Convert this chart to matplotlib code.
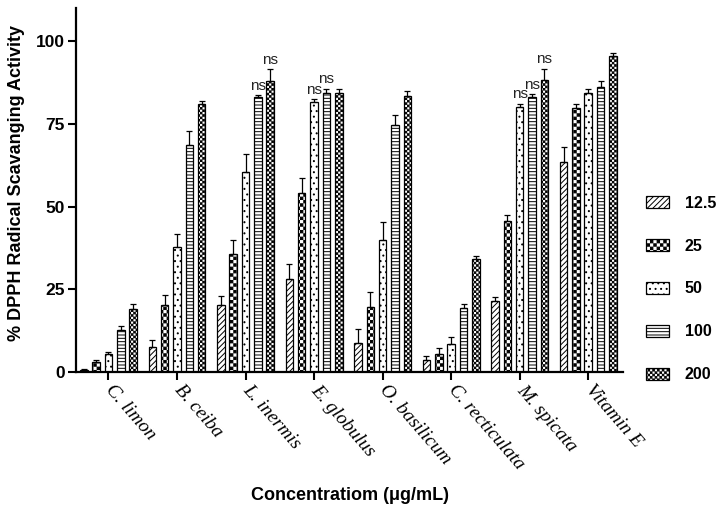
import warnings
import matplotlib
matplotlib.use("Agg")
import matplotlib.pyplot as plt
import matplotlib.hatch as mhatch
from matplotlib.path import Path
import numpy as np

warnings.filterwarnings("ignore")

categories = ["C. limon", "B. ceiba", "L. inermis", "E. globulus",
              "O. basilicum", "C. recticulata", "M. spicata", "Vitamin E"]
concentrations = ["12.5", "25", "50", "100", "200"]

v125 = [0.5, 7.5, 20.4, 28.0, 8.9, 3.5, 21.5, 63.4]
v25 = [3.0, 20.3, 35.6, 54.0, 19.7, 5.4, 45.6, 79.9]
v50 = [5.4, 37.9, 60.5, 81.7, 39.9, 8.5, 80.0, 84.3]
v100 = [12.7, 68.6, 83.2, 84.5, 74.8, 19.4, 83.2, 86.2]
v200 = [19.0, 81.0, 88.0, 84.4, 83.4, 34.1, 88.2, 95.6]

e125 = [0.3, 2.1, 2.6, 4.8, 4.1, 1.3, 1.2, 4.5]
e25 = [0.5, 3.1, 4.2, 4.7, 4.5, 2.0, 1.9, 1.1]
e50 = [0.8, 3.8, 5.3, 0.8, 5.4, 2.0, 1.2, 1.4]
e100 = [1.2, 4.3, 0.5, 1.2, 2.9, 1.3, 0.8, 1.7]
e200 = [1.5, 1.0, 3.5, 1.2, 1.5, 1.1, 3.4, 0.9]

# (category index, concentration index) pairs marked "ns"
ns_marks = [(2, 3), (2, 4), (3, 2), (3, 3), (6, 2), (6, 3), (6, 4)]

values = [v125, v25, v50, v100, v200]
errors = [e125, e25, e50, e100, e200]


# custom checkerboard hatch patterns ('c' coarse, 'k' fine)
class _Checker(mhatch.HatchPatternBase):
    char = "c"
    inset = 0.0045

    def __init__(self, hatch, density):
        n = hatch.count(self.char) * density
        if n % 2:
            n += 1
        self.n = n
        self.cells = [(i, j) for i in range(n) for j in range(n)
                      if (i + j) % 2 == 0] if n else []
        self.num_vertices = len(self.cells) * 5

    def set_vertices_and_codes(self, vertices, codes):
        s = 1.0 / self.n
        d = self.inset
        k = 0
        for i, j in self.cells:
            x0, y0 = i * s + d, j * s + d
            x1, y1 = (i + 1) * s - d, (j + 1) * s - d
            vertices[k:k + 5] = [(x0, y0), (x1, y0), (x1, y1), (x0, y1), (x0, y0)]
            codes[k:k + 5] = [Path.MOVETO, Path.LINETO, Path.LINETO,
                              Path.LINETO, Path.CLOSEPOLY]
            k += 5


class _FineChecker(_Checker):
    char = "k"
    inset = 0.0040


try:
    mhatch._hatch_types.append(_Checker)
    mhatch._hatch_types.append(_FineChecker)
    hatches = ["//////", "ccccc", "...", "-----", "kkkkkkk"]
except Exception:
    hatches = ["//////", "xx", "...", "-----", "xxxxxx"]

plt.rcParams['hatch.linewidth'] = 0.7
fig = plt.figure(figsize=(7.23, 5.16), dpi=100)
ax = fig.add_axes([0.105, 0.279, 0.757, 0.705])

x = np.arange(len(categories))
step = 0.18
width = 0.11
handles = []
for i, (vals, errs, h, lab) in enumerate(zip(values, errors, hatches, concentrations)):
    xs = x + (i - 2) * step
    bars = ax.bar(xs, vals, width, color="white", edgecolor="black",
                  linewidth=0.9, hatch=h, label=lab, zorder=2)
    ax.errorbar(xs, vals, yerr=[np.zeros(len(errs)), errs], fmt="none",
                ecolor="black", elinewidth=0.9, capsize=2, capthick=0.9, zorder=3)
    handles.append(bars)

for ci, ki in ns_marks:
    xs = ci + (ki - 2) * step
    top = values[ki][ci] + errors[ki][ci]
    ax.text(xs, top + 0.8, "ns", ha="center", va="bottom", fontsize=11,
            color="#222222", family="Liberation Sans")

ax.set_xlim(-0.474, 7.51)
ax.set_ylim(0, 110)
ax.set_yticks([0, 25, 50, 75, 100])
ax.set_yticklabels(["0", "25", "50", "75", "100"], fontsize=12.5,
                   fontweight="bold", family="Liberation Sans")
ax.set_xticks(x)
ax.set_xticklabels(categories, rotation=-49, ha="left", va="center",
                   rotation_mode="anchor", fontsize=14, style="italic",
                   family="Liberation Serif")
ax.tick_params(axis="both", direction="out", length=6, width=1.5)
ax.tick_params(axis="x", pad=5)
ax.tick_params(axis="y", pad=2)
for s in ["top", "right"]:
    ax.spines[s].set_visible(False)
for s in ["left", "bottom"]:
    ax.spines[s].set_linewidth(1.6)

ax.set_ylabel("% DPPH Radical Scavanging Activity", fontsize=13,
              fontweight="bold", family="Liberation Sans")
ax.yaxis.set_label_coords(-0.093, 0.519)
fig.text(0.484, 0.04, "Concentratiom (\u03bcg/mL)", ha="center", va="center",
         fontsize=13, fontweight="bold", family="Liberation Sans")

leg = fig.legend(handles=handles, labels=concentrations, loc="center left",
                 bbox_to_anchor=(0.874, 0.44), frameon=False,
                 prop={"family": "Liberation Sans", "weight": "bold", "size": 11.5},
                 handlelength=1.4, handleheight=0.8, labelspacing=1.75,
                 handletextpad=1.0)

fig.savefig("out.png", dpi=100)
